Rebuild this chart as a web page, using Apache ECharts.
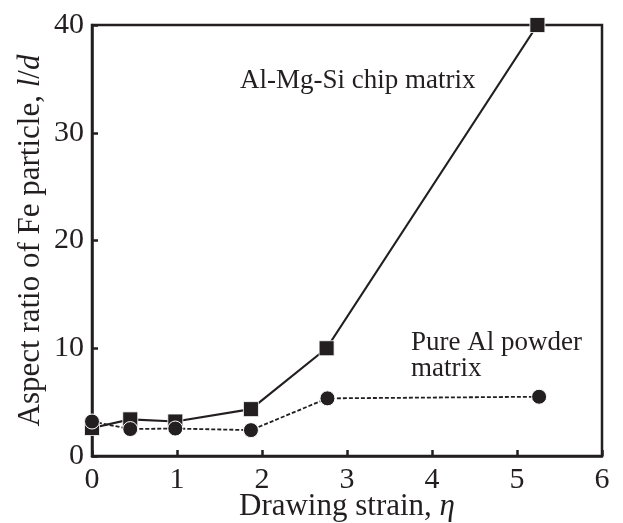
<!DOCTYPE html>
<html>
<head>
<meta charset="utf-8">
<script src="https://cdn.jsdelivr.net/npm/echarts@6/dist/echarts.min.js"></script>
<style>html,body{margin:0;padding:0;background:#fff;}#c{width:623px;height:523px;}</style>
</head>
<body>
<div id="c"></div>
<script>
var chipX = [0, 0.45, 0.98, 1.87, 2.76, 5.24];
var chipY = [2.6, 3.4, 3.2, 4.35, 10.0, 40.0];
var powderX = [0, 0.45, 0.98, 1.87, 2.77, 5.26];
var powderY = [3.2, 2.5, 2.55, 2.4, 5.35, 5.5];
var xTicks = [0, 1, 2, 3, 4, 5, 6];
var yTicks = [0, 10, 20, 30, 40];
var seriesNames = ['Al-Mg-Si chip matrix', 'Pure Al powder matrix'];

function pairs(xs, ys) { return xs.map(function (x, i) { return [x, ys[i]]; }); }

var FONT = '"Liberation Serif", "Times New Roman", serif';
var chart = echarts.init(document.getElementById('c'), null, { renderer: 'canvas' });
chart.setOption({
  animation: false,
  backgroundColor: '#fff',
  grid: { left: 92, right: 21, top: 25, bottom: 67, outerBoundsMode: 'none', containLabel: false, show: true, borderColor: '#231f20', borderWidth: 2.5, backgroundColor: 'transparent' },
  xAxis: {
    type: 'value', min: 0, max: 6, interval: 1,
    name: '{n|Drawing strain, }{i|\u03b7}', nameLocation: 'middle', nameGap: 35, nameMoveOverlap: false,
    nameTextStyle: { rich: { n: { fontFamily: FONT, fontSize: 31, color: '#231f20' }, i: { fontFamily: FONT, fontSize: 31, fontStyle: 'italic', color: '#231f20' } } },
    axisLine: { lineStyle: { color: '#231f20', width: 2.5 } },
    axisTick: { inside: true, length: 6, lineStyle: { color: '#231f20', width: 2.5 } },
    axisLabel: { fontFamily: FONT, fontSize: 30, color: '#231f20', margin: 9, formatter: function (v) { return xTicks.indexOf(v) >= 0 ? String(v) : ''; } },
    splitLine: { show: false }
  },
  yAxis: {
    type: 'value', min: 0, max: 40, interval: 10,
    name: '{n|Aspect ratio of Fe particle, }{i|l}{n|/}{i|d}', nameLocation: 'middle', nameGap: 46, nameMoveOverlap: false,
    nameTextStyle: { rich: { n: { fontFamily: FONT, fontSize: 31, color: '#231f20' }, i: { fontFamily: FONT, fontSize: 31, fontStyle: 'italic', color: '#231f20' } } },
    axisLine: { lineStyle: { color: '#231f20', width: 2.5 } },
    axisTick: { inside: true, length: 6, lineStyle: { color: '#231f20', width: 2.5 } },
    axisLabel: { fontFamily: FONT, fontSize: 30, color: '#231f20', margin: 8, formatter: function (v) { return yTicks.indexOf(v) >= 0 ? String(v) : ''; } },
    splitLine: { show: false }
  },
  series: [
    {
      name: seriesNames[0], type: 'line', data: pairs(chipX, chipY),
      symbol: 'rect', symbolSize: 15,
      itemStyle: { color: '#231f20', borderColor: '#fff', borderWidth: 0.8 },
      lineStyle: { color: '#231f20', width: 2.2, type: 'solid' },
      z: 2
    },
    {
      name: seriesNames[1], type: 'line', data: pairs(powderX, powderY),
      symbol: 'circle', symbolSize: 15,
      itemStyle: { color: '#231f20', borderColor: '#fff', borderWidth: 1 },
      lineStyle: { color: '#231f20', width: 1.8, type: [4, 2] },
      z: 3
    }
  ],
  graphic: [
    { type: 'text', left: 240, top: 67, style: { text: 'Al-Mg-Si chip matrix', font: '27px ' + FONT, fill: '#231f20' } },
    { type: 'text', left: 411, top: 329, style: { text: 'Pure Al powder\nmatrix', font: '27px ' + FONT, fill: '#231f20', lineHeight: 26 } }
  ]
});
</script>
</body>
</html>
